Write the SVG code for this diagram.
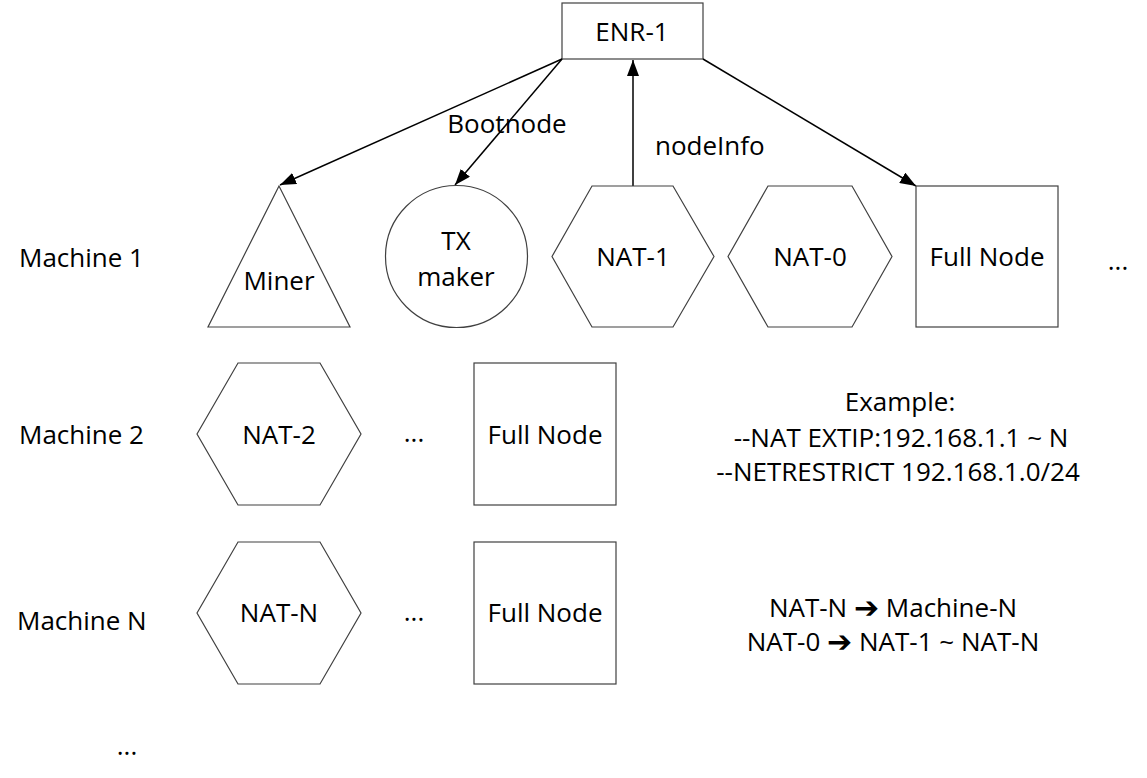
<svg xmlns="http://www.w3.org/2000/svg" width="1147" height="778" viewBox="0 0 1147 778">
<style>
.shape{fill:#fff;stroke:#404040;stroke-width:1.2}
.t{font-family:"Open Sans","Liberation Sans",sans-serif;font-size:26px;fill:#000;text-anchor:middle;dominant-baseline:central}
.l{text-anchor:start}
.conn{stroke:#000;stroke-width:1.5;fill:none;marker-end:url(#ah)}
.sym{font-family:"DejaVu Sans",sans-serif;font-weight:bold;font-size:30px}
</style>
<defs>
<marker id="ah" viewBox="0 0 16 12" refX="16" refY="6" markerWidth="16" markerHeight="12" markerUnits="userSpaceOnUse" orient="auto">
<path d="M0,0 L16,6 L0,12 z" fill="#000"/>
</marker>
</defs>
<rect width="1147" height="778" fill="#fff"/>

<g id="enr1">
<rect class="shape" x="562" y="3" width="141" height="56"/>
<text class="t" x="632" y="31">ENR-1</text>
</g>

<g id="connectors">
<line class="conn" x1="562" y1="59" x2="280" y2="185"/>
<line class="conn" x1="562" y1="59" x2="455" y2="185"/>
<line class="conn" x1="633" y1="186" x2="633" y2="60"/>
<line class="conn" x1="703" y1="59" x2="916" y2="186"/>
<text class="t" x="507" y="123">Bootnode</text>
<text class="t l" x="655" y="145">nodeInfo</text>
</g>

<g id="labels">
<text class="t l" x="19" y="257">Machine 1</text>
<text class="t l" x="19" y="434">Machine 2</text>
<text class="t l" x="17" y="620">Machine N</text>
<text class="t" x="127" y="745">...</text>
<text class="t" x="1118" y="260">...</text>
<text class="t" x="414" y="432">...</text>
<text class="t" x="414" y="611">...</text>
</g>

<g id="miner">
<polygon class="shape" points="279,186 208,327 350,327"/>
<text class="t" x="279" y="280">Miner</text>
</g>

<g id="txmaker">
<circle class="shape" cx="456.5" cy="256.5" r="71"/>
<text class="t" x="456" y="240" font-size="25">TX</text>
<text class="t" x="456" y="276" font-size="25">maker</text>
</g>

<g id="nat1">
<polygon class="shape" points="552,256.5 592,186 673,186 714,256.5 673,327 592,327"/>
<text class="t" x="633" y="256">NAT-1</text>
</g>

<g id="nat0">
<polygon class="shape" points="728,256.5 768,186 852,186 892,256.5 852,327 768,327"/>
<text class="t" x="810" y="256">NAT-0</text>
</g>

<g id="fullnode1">
<rect class="shape" x="916" y="186" width="142" height="141"/>
<text class="t" x="987" y="256">Full Node</text>
</g>

<g id="nat2">
<polygon class="shape" points="197,434 238,363 320,363 361,434 320,505 238,505"/>
<text class="t" x="279" y="434">NAT-2</text>
</g>

<g id="fullnode2">
<rect class="shape" x="474" y="363" width="142" height="142"/>
<text class="t" x="545" y="434">Full Node</text>
</g>

<g id="natn">
<polygon class="shape" points="197,613 238,542 320,542 361,613 320,684 238,684"/>
<text class="t" x="279" y="612">NAT-N</text>
</g>

<g id="fullnoden">
<rect class="shape" x="474" y="542" width="142" height="142"/>
<text class="t" x="545" y="612">Full Node</text>
</g>

<g id="example">
<text class="t" x="900" y="401">Example:</text>
<text class="t" x="901" y="437">--NAT EXTIP:192.168.1.1 ~ N</text>
<text class="t" x="898" y="471">--NETRESTRICT 192.168.1.0/24</text>
</g>

<g id="mapping">
<text class="t" x="893" y="607">NAT-N <tspan class="sym">➔</tspan> Machine-N</text>
<text class="t" x="893" y="641">NAT-0 <tspan class="sym">➔</tspan> NAT-1 ~ NAT-N</text>
</g>
</svg>
